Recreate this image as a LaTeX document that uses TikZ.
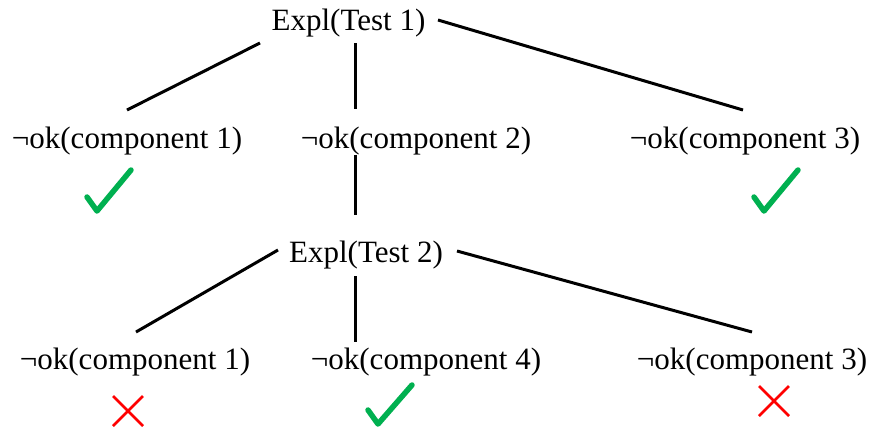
\documentclass[tikz,border=0pt]{standalone}
\usepackage{fontspec}
\setmainfont{Liberation Serif}
\definecolor{okgreen}{RGB}{0,176,80}
\definecolor{badred}{RGB}{255,0,0}
\begin{document}
\begin{tikzpicture}[x=1pt,y=-1pt,
  lbl/.style={anchor=base,inner sep=0pt,font=\fontsize{31}{36}\selectfont},
  edge/.style={line width=3pt,black},
  tick/.style={line width=5.5pt,okgreen,line join=round,line cap=round},
  cross/.style={line width=2.8pt,badred}]
\useasboundingbox (0,0) rectangle (871,432);
% nodes
\node[lbl] (t1) at (348.5,30) {Expl(Test 1)};
\node[lbl] (a1) at (127,148) {¬ok(component 1)};
\node[lbl] (a2) at (416,148) {¬ok(component 2)};
\node[lbl] (a3) at (745,148) {¬ok(component 3)};
\node[lbl] (t2) at (366,262) {Expl(Test 2)};
\node[lbl] (b1) at (135,369) {¬ok(component 1)};
\node[lbl] (b4) at (426,369) {¬ok(component 4)};
\node[lbl] (b3) at (752,369) {¬ok(component 3)};
% connector end points
\coordinate (t1l) at (260,43);
\coordinate (t1m) at (355.5,43);
\coordinate (t1r) at (438,20);
\coordinate (a1t) at (127,110);
\coordinate (a2t) at (355.5,109);
\coordinate (a3t) at (743,110);
\coordinate (a2b) at (355.5,155);
\coordinate (t2t) at (355.5,215);
\coordinate (t2l) at (278,250);
\coordinate (t2m) at (355.5,276);
\coordinate (t2r) at (457,251);
\coordinate (b1t) at (136,332);
\coordinate (b4t) at (355.5,342);
\coordinate (b3t) at (752,332);
% connectors
\draw[edge] (t1l) -- (a1t);
\draw[edge] (t1m) -- (a2t);
\draw[edge] (t1r) -- (a3t);
\draw[edge] (a2b) -- (t2t);
\draw[edge] (t2l) -- (b1t);
\draw[edge] (t2m) -- (b4t);
\draw[edge] (t2r) -- (b3t);
% ticks
\draw[tick] (87,197) -- (97,211) -- (131,170);
\draw[tick] (754,197) -- (764,211) -- (798,170);
\draw[tick] (368,410) -- (378,424) -- (412,385);
% crosses
\draw[cross] (113,396) -- (143,426) (143,396) -- (113,426);
\draw[cross] (759,386) -- (789,416) (789,386) -- (759,416);
\end{tikzpicture}
\end{document}
